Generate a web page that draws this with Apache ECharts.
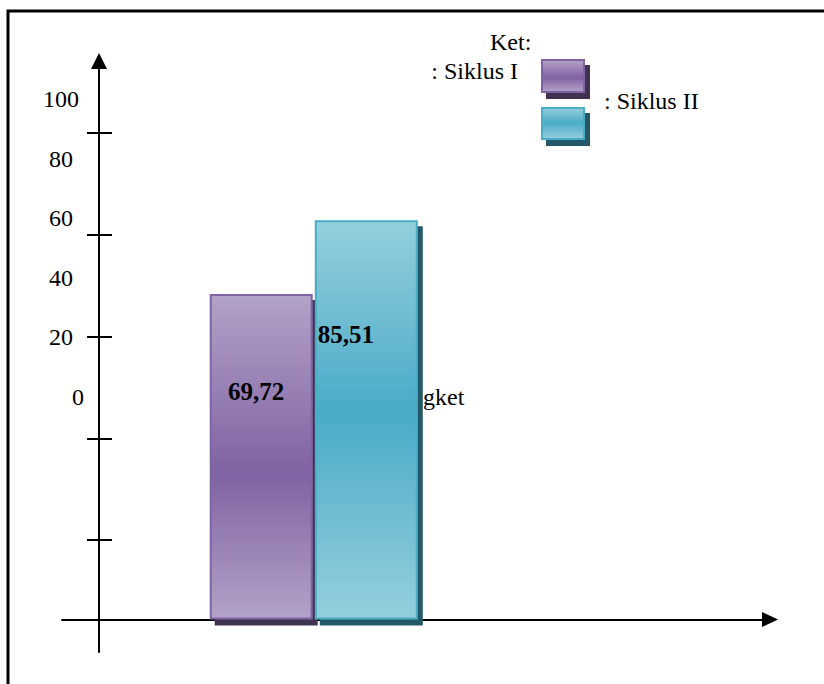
<!DOCTYPE html>
<html><head><meta charset="utf-8">
<script src="https://cdn.jsdelivr.net/npm/echarts@6/dist/echarts.min.js"></script>
<style>html,body{margin:0;padding:0;background:#fff}#c{width:824px;height:684px}</style>
</head><body><div id="c"></div>
<script>
// ---- data ----
const categories = ['Hasil'];
const seriesNames = ['Siklus I', 'Siklus II'];
const siklus1 = [69.72];
const siklus2 = [85.51];
const yTickLabels = [0, 20, 40, 60, 80, 100];
const legendTitle = 'Ket:';
const strayText = 'gket';

// ---- style / layout ----
const FONT = '"Liberation Serif", "Times New Roman", serif';
const Y_MIN = -6.96, Y_MAX = 119.6;   // value range of the drawing axis
const mainGrid = { left: 62, right: 54, top: 61, bottom: 32 };

const purpleGrad = new echarts.graphic.LinearGradient(0, 0, 0, 1, [
  { offset: 0, color: '#b3a2c9' }, { offset: 0.55, color: '#7f62a1' }, { offset: 1, color: '#b3a2c9' }]);
const cyanGrad = new echarts.graphic.LinearGradient(0, 0, 0, 1, [
  { offset: 0, color: '#95cfde' }, { offset: 0.48, color: '#4aabc6' }, { offset: 1, color: '#95cfde' }]);

const fmt = v => v.toFixed(2).replace('.', ',');
const txt = { fontFamily: FONT, fontSize: 24, fill: '#000' };

const chart = echarts.init(document.getElementById('c'), null, { renderer: 'svg' });
chart.setOption({
  backgroundColor: '#fff',
  animation: false,
  title: {
    text: legendTitle, left: 490, top: 30, padding: 0,
    textStyle: { fontFamily: FONT, fontSize: 24, fontWeight: 'normal', color: '#000' }
  },
  legend: [
    {
      data: [seriesNames[0]], icon: 'rect', align: 'left', left: 541, top: 59, padding: 0,
      itemWidth: 42, itemHeight: 32, selectedMode: false, formatter: () => '',
      itemStyle: { borderWidth: 2, shadowColor: '#3f3151', shadowOffsetX: 5, shadowOffsetY: 6, shadowBlur: 0 }
    },
    {
      data: [seriesNames[1]], icon: 'rect', align: 'left', left: 541, top: 107, padding: 0,
      itemWidth: 42, itemHeight: 31, selectedMode: false, formatter: () => '',
      itemStyle: { borderWidth: 2, shadowColor: '#215968', shadowOffsetX: 5, shadowOffsetY: 6, shadowBlur: 0 }
    }
  ],
  grid: [
    Object.assign({}, mainGrid),                                  // 0: axes with arrows
    { left: 112, width: 10, top: 133, bottom: 144 },              // 1: tick marks
    { left: 99, width: 10, top: 99, bottom: 287 },                // 2: tick labels
    { left: 200, right: 396.5, top: mainGrid.top, bottom: mainGrid.bottom } // 3: bars
  ],
  xAxis: [
    {
      gridIndex: 0, type: 'value', min: -37, max: 671,
      axisLine: { onZero: true, symbol: ['none', 'triangle'], symbolSize: [15, 16], lineStyle: { color: '#000', width: 2 } },
      axisTick: { show: false }, axisLabel: { show: false }, splitLine: { show: false }
    },
    { gridIndex: 1, type: 'value', show: false },
    { gridIndex: 2, type: 'value', show: false },
    { gridIndex: 3, type: 'category', data: categories, show: false }
  ],
  yAxis: [
    {
      gridIndex: 0, type: 'value', min: Y_MIN, max: Y_MAX,
      axisLine: { onZero: true, symbol: ['none', 'triangle'], symbolSize: [16, 16], lineStyle: { color: '#000', width: 2 } },
      axisTick: { show: false }, axisLabel: { show: false }, splitLine: { show: false }
    },
    {
      gridIndex: 1, type: 'value', min: 0, max: 4, interval: 1,
      axisLine: { show: false },
      axisTick: { show: true, length: 25, lineStyle: { color: '#000', width: 2 } },
      axisLabel: { show: false }, splitLine: { show: false }
    },
    {
      gridIndex: 2, type: 'value', min: 0, max: 100, interval: 20,
      axisLine: { show: false }, axisTick: { show: false }, splitLine: { show: false },
      axisLabel: {
        show: true, customValues: yTickLabels, margin: 38, align: 'center',
        fontFamily: FONT, fontSize: 24, color: '#000',
        formatter: v => (v === 0 ? '{z|0}' : String(v)),
        rich: { z: { fontFamily: FONT, fontSize: 24, color: '#000', padding: [0, 0, 0, 34] } }
      }
    },
    { gridIndex: 3, type: 'value', min: Y_MIN, max: Y_MAX, show: false, splitLine: { show: false } }
  ],
  series: [
    {
      name: seriesNames[0], type: 'bar', xAxisIndex: 3, yAxisIndex: 3, data: siklus1,
      barWidth: 103, barGap: '2%',
      itemStyle: { color: purpleGrad, borderColor: '#8064a2', borderWidth: 2,
        shadowColor: '#3f3151', shadowOffsetX: 5, shadowOffsetY: 6, shadowBlur: 0 },
      label: { show: true, position: ['45%', 98], align: 'center', verticalAlign: 'middle',
        formatter: p => fmt(p.value), fontFamily: FONT, fontSize: 25, fontWeight: 'bold', color: '#000' }
    },
    {
      name: seriesNames[1], type: 'bar', xAxisIndex: 3, yAxisIndex: 3, data: siklus2,
      barWidth: 103, barGap: '2%',
      itemStyle: { color: cyanGrad, borderColor: '#4bacc6', borderWidth: 2,
        shadowColor: '#215968', shadowOffsetX: 5, shadowOffsetY: 6, shadowBlur: 0 },
      label: { show: true, position: [3, 114], align: 'left', verticalAlign: 'middle',
        formatter: p => fmt(p.value), fontFamily: FONT, fontSize: 25, fontWeight: 'bold', color: '#000' }
    }
  ],
  graphic: [
    { type: 'polyline', silent: true, shape: { points: [[8, 684], [8, 11], [824, 11]] },
      style: { stroke: '#000', lineWidth: 3, fill: null } },
    { type: 'text', silent: true, x: 518, y: 71,
      style: Object.assign({ text: ': ' + seriesNames[0], align: 'right', verticalAlign: 'middle' }, txt) },
    { type: 'text', silent: true, x: 604, y: 101,
      style: Object.assign({ text: ': ' + seriesNames[1], align: 'left', verticalAlign: 'middle' }, txt) },
    { type: 'text', silent: true, x: 423, y: 397,
      style: Object.assign({ text: strayText, align: 'left', verticalAlign: 'middle' }, txt) }
  ]
});
</script>
</body></html>
